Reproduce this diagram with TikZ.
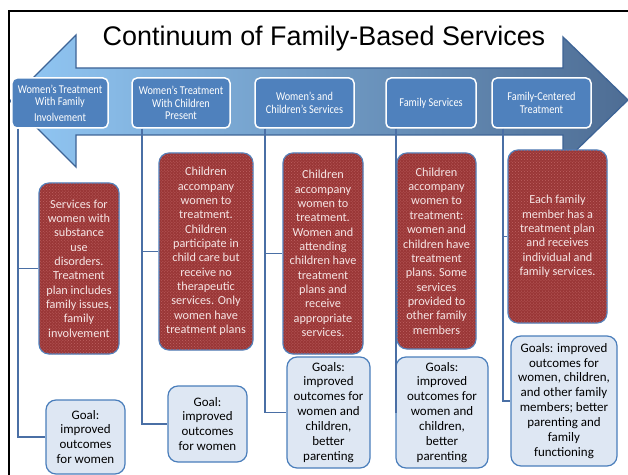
\documentclass[tikz,border=0pt]{standalone}
\usepackage{fontspec}
\setmainfont{Carlito}
\newfontfamily\titlefont{Liberation Sans}
\newfontfamily\narrowfont[FakeStretch=0.86]{Carlito}
\usetikzlibrary{patterns}
\definecolor{arrL}{HTML}{92C8F5}
\definecolor{arrR}{HTML}{4E6D94}
\definecolor{arrB}{HTML}{3E6496}
\definecolor{boxB}{HTML}{4F81BD}
\definecolor{redF}{HTML}{9A3737}
\definecolor{redP}{HTML}{BE6262}
\definecolor{redT}{HTML}{F5E4E4}
\definecolor{goalF}{HTML}{DEE7F3}
\definecolor{goalB}{HTML}{4A7EBB}
\definecolor{connC}{HTML}{4A6FA5}
\begin{document}
\begin{tikzpicture}[x=1bp,y=-1bp,
 topbox/.style={draw=white, line width=1.5bp, fill=boxB, rounded corners=5bp, text=white, align=center, inner sep=0pt, font=\narrowfont\fontsize{12}{12.5}\selectfont},
 redbox/.style={draw=boxB, line width=1.2bp, fill=redF, rounded corners=10bp, text=redT, align=center, inner sep=0pt, font=\fontsize{12.3}{14.4}\selectfont, postaction={pattern=crosshatch dots, pattern color=redP}},
 goalbox/.style={draw=goalB, line width=1.2bp, fill=goalF, rounded corners=10bp, text=black, align=center, inner sep=0pt, font=\fontsize{13}{15}\selectfont},
 conn/.style={draw=connC, line width=1.3bp},
 titletext/.style={font=\titlefont\fontsize{27}{30}\selectfont, text=black, inner sep=0pt}
]
\useasboundingbox (0,0) rectangle (628,475);
\fill[white] (0,0) rectangle (628,475);
% arrow
\path[left color=arrL, right color=arrR, draw=arrB, line width=1.3bp, line join=miter]
 (10,101) -- (76,35) -- (76,68) -- (563,68) -- (563,37) -- (628,100) -- (563,163) -- (563,135) -- (76,135) -- (76,167) -- cycle;
\node[titletext, anchor=base] (title) at (324,46) {Continuum of Family-Based Services};
% top boxes
\node[topbox, minimum width=96bp, minimum height=50bp] (b1) at (60,103) {Women’s Treatment\\With Family\\[3bp]Involvement};
\node[topbox, minimum width=98bp, minimum height=50bp] (b2) at (181,103) {Women’s Treatment\\With Children\\Present};
\node[topbox, minimum width=99bp, minimum height=50bp] (b3) at (304.5,103) {Women’s and\\Children’s Services};
\node[topbox, minimum width=90bp, minimum height=50bp] (b4) at (431,103) {Family Services};
\node[topbox, minimum width=99bp, minimum height=50bp] (b5) at (541.5,103) {Family-Centered\\Treatment};
% detail boxes
\node[redbox, minimum width=80bp, minimum height=171bp] (r1) at (79,268.5) {Services for\\women with\\substance\\use\\disorders.\\Treatment\\plan includes\\family issues,\\family\\involvement};
\node[redbox, minimum width=94bp, minimum height=197bp] (r2) at (206,251.5) {Children\\accompany\\women to\\treatment.\\Children\\participate in\\child care but\\receive no\\therapeutic\\services. Only\\women have\\treatment plans};
\node[redbox, minimum width=80bp, minimum height=201bp] (r3) at (323,253.5) {Children\\accompany\\women to\\treatment.\\Women and\\attending\\children have\\treatment\\plans and\\receive\\appropriate\\services.};
\node[redbox, minimum width=79bp, minimum height=196bp] (r4) at (436.5,251) {Children\\accompany\\women to\\treatment:\\women and\\children have\\treatment\\plans. Some\\services\\provided to\\other family\\members};
\node[redbox, minimum width=99bp, minimum height=173bp] (r5) at (557.5,236.5) {Each family\\member has a\\treatment plan\\and receives\\individual and\\family services.};
% goal boxes
\node[goalbox, minimum width=79bp, minimum height=74bp] (g1) at (85.5,437) {Goal:\\improved\\outcomes\\for women};
\node[goalbox, minimum width=79bp, minimum height=76bp] (g2) at (207.5,424) {Goal:\\improved\\outcomes\\for women};
\node[goalbox, minimum width=83bp, minimum height=111bp] (g3) at (328.5,412.5) {Goals:\\improved\\outcomes for\\women and\\children,\\better\\parenting};
\node[goalbox, minimum width=92bp, minimum height=111bp] (g4) at (442,412.5) {Goals:\\improved\\outcomes for\\women and\\children,\\better\\parenting};
\node[goalbox, minimum width=106bp, minimum height=130bp] (g5) at (564,401) {Goals: improved\\outcomes for\\women, children,\\and other family\\members; better\\parenting and\\family\\functioning};
% connectors
\coordinate (x1) at (18,0);
\coordinate (x2) at (142,0);
\coordinate (x3) at (265,0);
\coordinate (x4) at (396,0);
\coordinate (x5) at (503,0);
\draw[conn] (b1.south -| x1) |- (g1.west);
\draw[conn] (x1 |- r1.west) -- (r1.west);
\draw[conn] (b2.south -| x2) |- (g2.west);
\draw[conn] (x2 |- r2.west) -- (r2.west);
\draw[conn] (b3.south -| x3) |- (g3.west);
\draw[conn] (x3 |- r3.west) -- (r3.west);
\draw[conn] (b4.south -| x4) -- (x4 |- g4.west);
\draw[conn] (b5.south -| x5) |- (g5.west);
\draw[conn] (x5 |- r5.west) -- (r5.west);
% frame
\draw[line width=2.2bp] (9,475) -- (9,11) -- (628,11);
\end{tikzpicture}
\end{document}
